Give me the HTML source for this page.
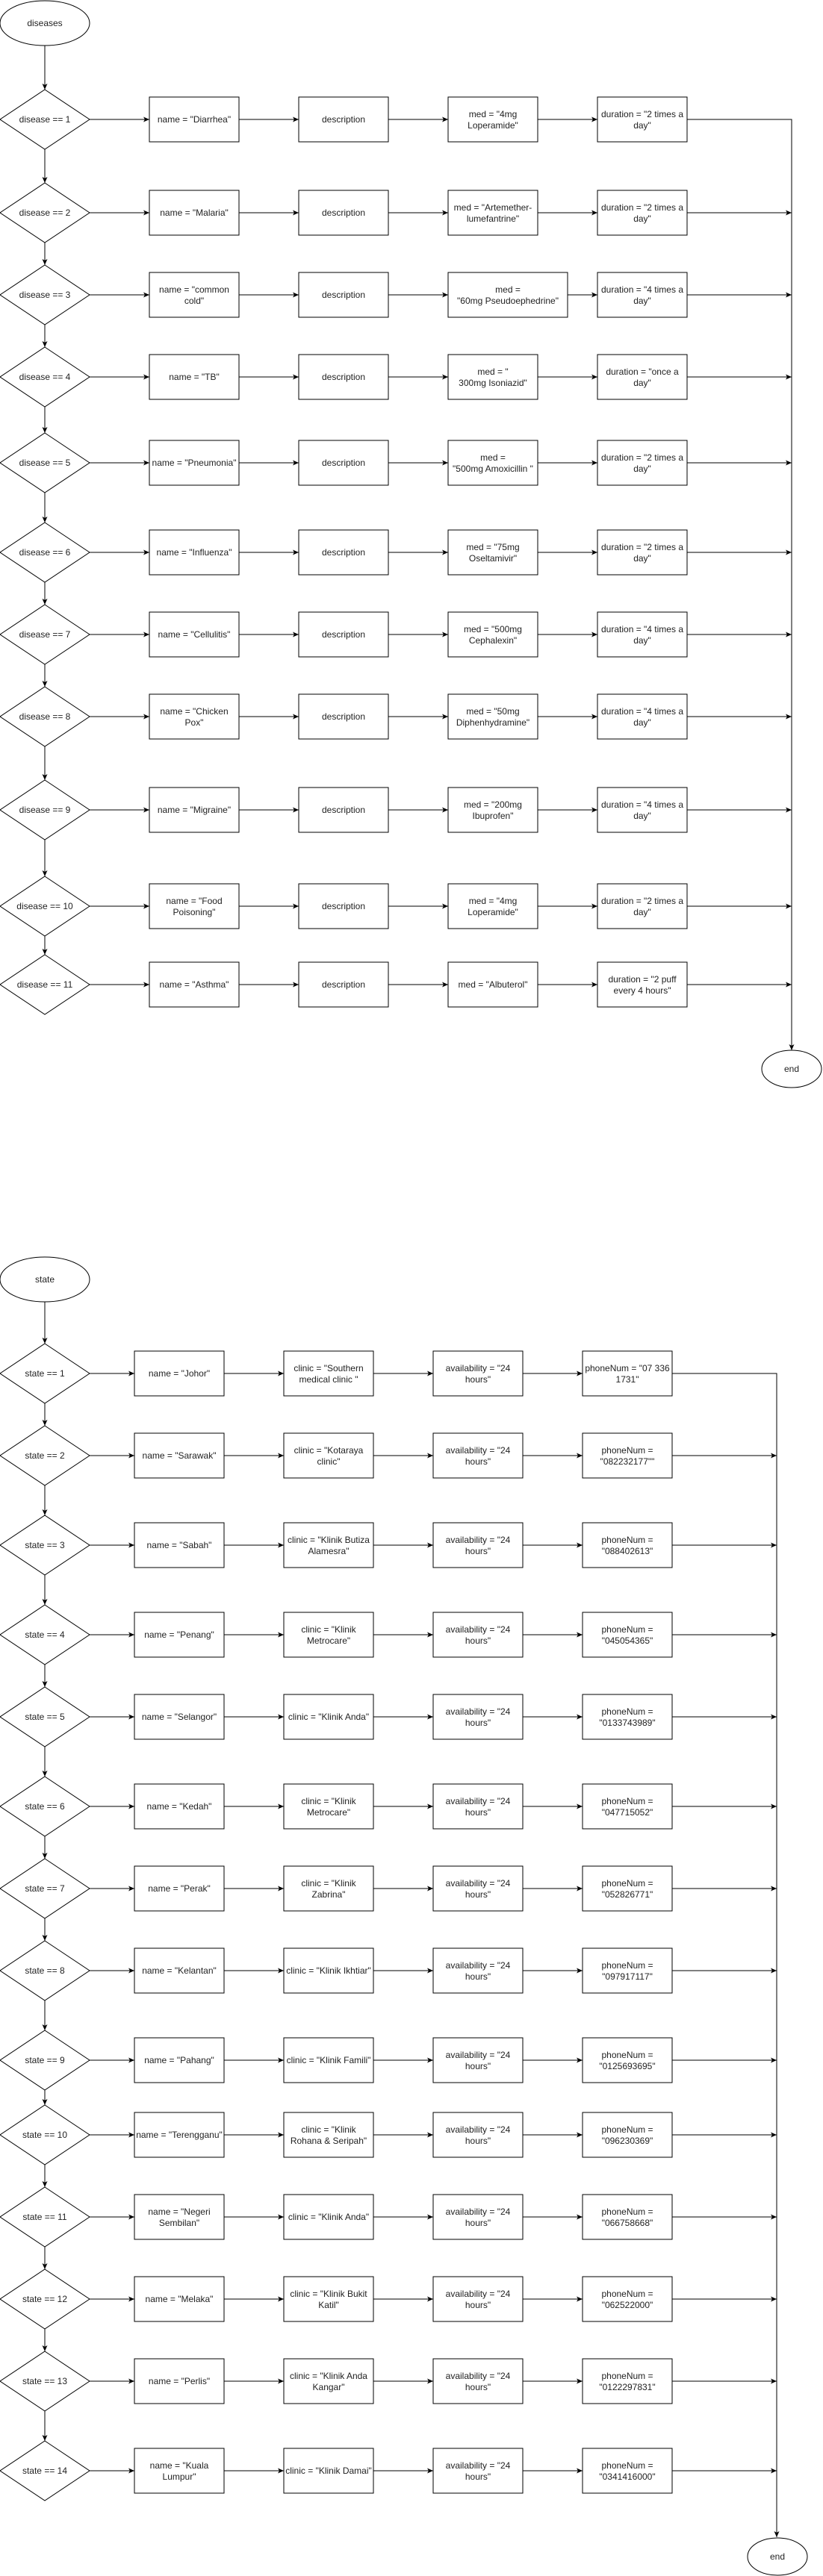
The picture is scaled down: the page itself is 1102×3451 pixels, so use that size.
<!DOCTYPE html>
<html><head><meta charset="utf-8"><style>
html,body{margin:0;padding:0;background:#fff;}
svg{display:block;}
text{font-family:"Liberation Sans",Arial,sans-serif;font-size:12px;fill:#222;text-anchor:middle;}
.s{fill:#fff;stroke:#000;stroke-width:1;}
.l{fill:none;stroke:#000;stroke-width:1;}
.a{fill:none;stroke:#000;stroke-width:1;marker-end:url(#m);}
</style></head><body>
<svg width="1102" height="3451" viewBox="0 0 1102 3451" xmlns="http://www.w3.org/2000/svg">
<defs><marker id="m" markerWidth="9" markerHeight="8" refX="8" refY="3.5" orient="auto" markerUnits="userSpaceOnUse"><path d="M0,0 L8,3.5 L0,7 L2,3.5 z" fill="#000"/></marker></defs>

<!-- ===== DISEASES ===== -->
<ellipse class="s" cx="60" cy="31" rx="60" ry="30"/><text x="60" y="35">diseases</text>
<path class="a" d="M60 61 V120"/>
<path class="a" d="M60 200 V245"/>
<path class="a" d="M60 325 V355"/>
<path class="a" d="M60 435 V465"/>
<path class="a" d="M60 545 V580"/>
<path class="a" d="M60 660 V700"/>
<path class="a" d="M60 780 V810"/>
<path class="a" d="M60 890 V920"/>
<path class="a" d="M60 1000 V1045"/>
<path class="a" d="M60 1125 V1174"/>
<path class="a" d="M60 1254 V1279"/>
<path class="l" d="M920 160 H1060 V1407"/>
<path class="a" d="M1060 1300 V1407"/>
<ellipse class="s" cx="1060" cy="1432" rx="40" ry="25"/><text x="1060" y="1436">end</text>

<g transform="translate(0,160)">
<polygon class="s" points="60,-40 120,0 60,40 0,0"/><text x="60" y="4">disease == 1</text>
<path class="a" d="M120 0 H200"/><path class="a" d="M320 0 H400"/><path class="a" d="M520 0 H600"/><path class="a" d="M720 0 H800"/>
<rect class="s" x="200" y="-30" width="120" height="60"/><text x="260" y="4">name = "Diarrhea"</text>
<rect class="s" x="400" y="-30" width="120" height="60"/><text x="460" y="4">description</text>
<rect class="s" x="600" y="-30" width="120" height="60"/><text x="660" y="-3">med = "4mg</text><text x="660" y="12">Loperamide"</text>
<rect class="s" x="800" y="-30" width="120" height="60"/><text x="860" y="-3">duration = "2 times a</text><text x="860" y="12">day"</text>
</g>
<g transform="translate(0,285)">
<polygon class="s" points="60,-40 120,0 60,40 0,0"/><text x="60" y="4">disease == 2</text>
<path class="a" d="M120 0 H200"/><path class="a" d="M320 0 H400"/><path class="a" d="M520 0 H600"/><path class="a" d="M720 0 H800"/><path class="a" d="M920 0 H1060"/>
<rect class="s" x="200" y="-30" width="120" height="60"/><text x="260" y="4">name = "Malaria"</text>
<rect class="s" x="400" y="-30" width="120" height="60"/><text x="460" y="4">description</text>
<rect class="s" x="600" y="-30" width="120" height="60"/><text x="660" y="-3">med = "Artemether-</text><text x="660" y="12">lumefantrine"</text>
<rect class="s" x="800" y="-30" width="120" height="60"/><text x="860" y="-3">duration = "2 times a</text><text x="860" y="12">day"</text>
</g>
<g transform="translate(0,395)">
<polygon class="s" points="60,-40 120,0 60,40 0,0"/><text x="60" y="4">disease == 3</text>
<path class="a" d="M120 0 H200"/><path class="a" d="M320 0 H400"/><path class="a" d="M520 0 H600"/><path class="a" d="M760 0 H800"/><path class="a" d="M920 0 H1060"/>
<rect class="s" x="200" y="-30" width="120" height="60"/><text x="260" y="-3">name = "common</text><text x="260" y="12">cold"</text>
<rect class="s" x="400" y="-30" width="120" height="60"/><text x="460" y="4">description</text>
<rect class="s" x="600" y="-30" width="160" height="60"/><text x="680" y="-3">med =</text><text x="680" y="12">"60mg Pseudoephedrine"</text>
<rect class="s" x="800" y="-30" width="120" height="60"/><text x="860" y="-3">duration = "4 times a</text><text x="860" y="12">day"</text>
</g>
<g transform="translate(0,505)">
<polygon class="s" points="60,-40 120,0 60,40 0,0"/><text x="60" y="4">disease == 4</text>
<path class="a" d="M120 0 H200"/><path class="a" d="M320 0 H400"/><path class="a" d="M520 0 H600"/><path class="a" d="M720 0 H800"/><path class="a" d="M920 0 H1060"/>
<rect class="s" x="200" y="-30" width="120" height="60"/><text x="260" y="4">name = "TB"</text>
<rect class="s" x="400" y="-30" width="120" height="60"/><text x="460" y="4">description</text>
<rect class="s" x="600" y="-30" width="120" height="60"/><text x="660" y="-3">med = "</text><text x="660" y="12">300mg Isoniazid"</text>
<rect class="s" x="800" y="-30" width="120" height="60"/><text x="860" y="-3">duration = "once a</text><text x="860" y="12">day"</text>
</g>
<g transform="translate(0,620)">
<polygon class="s" points="60,-40 120,0 60,40 0,0"/><text x="60" y="4">disease == 5</text>
<path class="a" d="M120 0 H200"/><path class="a" d="M320 0 H400"/><path class="a" d="M520 0 H600"/><path class="a" d="M720 0 H800"/><path class="a" d="M920 0 H1060"/>
<rect class="s" x="200" y="-30" width="120" height="60"/><text x="260" y="4">name = "Pneumonia"</text>
<rect class="s" x="400" y="-30" width="120" height="60"/><text x="460" y="4">description</text>
<rect class="s" x="600" y="-30" width="120" height="60"/><text x="660" y="-3">med =</text><text x="660" y="12">"500mg Amoxicillin "</text>
<rect class="s" x="800" y="-30" width="120" height="60"/><text x="860" y="-3">duration = "2 times a</text><text x="860" y="12">day"</text>
</g>
<g transform="translate(0,740)">
<polygon class="s" points="60,-40 120,0 60,40 0,0"/><text x="60" y="4">disease == 6</text>
<path class="a" d="M120 0 H200"/><path class="a" d="M320 0 H400"/><path class="a" d="M520 0 H600"/><path class="a" d="M720 0 H800"/><path class="a" d="M920 0 H1060"/>
<rect class="s" x="200" y="-30" width="120" height="60"/><text x="260" y="4">name = "Influenza"</text>
<rect class="s" x="400" y="-30" width="120" height="60"/><text x="460" y="4">description</text>
<rect class="s" x="600" y="-30" width="120" height="60"/><text x="660" y="-3">med = "75mg</text><text x="660" y="12">Oseltamivir"</text>
<rect class="s" x="800" y="-30" width="120" height="60"/><text x="860" y="-3">duration = "2 times a</text><text x="860" y="12">day"</text>
</g>
<g transform="translate(0,850)">
<polygon class="s" points="60,-40 120,0 60,40 0,0"/><text x="60" y="4">disease == 7</text>
<path class="a" d="M120 0 H200"/><path class="a" d="M320 0 H400"/><path class="a" d="M520 0 H600"/><path class="a" d="M720 0 H800"/><path class="a" d="M920 0 H1060"/>
<rect class="s" x="200" y="-30" width="120" height="60"/><text x="260" y="4">name = "Cellulitis"</text>
<rect class="s" x="400" y="-30" width="120" height="60"/><text x="460" y="4">description</text>
<rect class="s" x="600" y="-30" width="120" height="60"/><text x="660" y="-3">med = "500mg</text><text x="660" y="12">Cephalexin"</text>
<rect class="s" x="800" y="-30" width="120" height="60"/><text x="860" y="-3">duration = "4 times a</text><text x="860" y="12">day"</text>
</g>
<g transform="translate(0,960)">
<polygon class="s" points="60,-40 120,0 60,40 0,0"/><text x="60" y="4">disease == 8</text>
<path class="a" d="M120 0 H200"/><path class="a" d="M320 0 H400"/><path class="a" d="M520 0 H600"/><path class="a" d="M720 0 H800"/><path class="a" d="M920 0 H1060"/>
<rect class="s" x="200" y="-30" width="120" height="60"/><text x="260" y="-3">name = "Chicken</text><text x="260" y="12">Pox"</text>
<rect class="s" x="400" y="-30" width="120" height="60"/><text x="460" y="4">description</text>
<rect class="s" x="600" y="-30" width="120" height="60"/><text x="660" y="-3">med = "50mg</text><text x="660" y="12">Diphenhydramine"</text>
<rect class="s" x="800" y="-30" width="120" height="60"/><text x="860" y="-3">duration = "4 times a</text><text x="860" y="12">day"</text>
</g>
<g transform="translate(0,1085)">
<polygon class="s" points="60,-40 120,0 60,40 0,0"/><text x="60" y="4">disease == 9</text>
<path class="a" d="M120 0 H200"/><path class="a" d="M320 0 H400"/><path class="a" d="M520 0 H600"/><path class="a" d="M720 0 H800"/><path class="a" d="M920 0 H1060"/>
<rect class="s" x="200" y="-30" width="120" height="60"/><text x="260" y="4">name = "Migraine"</text>
<rect class="s" x="400" y="-30" width="120" height="60"/><text x="460" y="4">description</text>
<rect class="s" x="600" y="-30" width="120" height="60"/><text x="660" y="-3">med = "200mg</text><text x="660" y="12">Ibuprofen"</text>
<rect class="s" x="800" y="-30" width="120" height="60"/><text x="860" y="-3">duration = "4 times a</text><text x="860" y="12">day"</text>
</g>
<g transform="translate(0,1214)">
<polygon class="s" points="60,-40 120,0 60,40 0,0"/><text x="60" y="4">disease == 10</text>
<path class="a" d="M120 0 H200"/><path class="a" d="M320 0 H400"/><path class="a" d="M520 0 H600"/><path class="a" d="M720 0 H800"/><path class="a" d="M920 0 H1060"/>
<rect class="s" x="200" y="-30" width="120" height="60"/><text x="260" y="-3">name = "Food</text><text x="260" y="12">Poisoning"</text>
<rect class="s" x="400" y="-30" width="120" height="60"/><text x="460" y="4">description</text>
<rect class="s" x="600" y="-30" width="120" height="60"/><text x="660" y="-3">med = "4mg</text><text x="660" y="12">Loperamide"</text>
<rect class="s" x="800" y="-30" width="120" height="60"/><text x="860" y="-3">duration = "2 times a</text><text x="860" y="12">day"</text>
</g>
<g transform="translate(0,1319)">
<polygon class="s" points="60,-40 120,0 60,40 0,0"/><text x="60" y="4">disease == 11</text>
<path class="a" d="M120 0 H200"/><path class="a" d="M320 0 H400"/><path class="a" d="M520 0 H600"/><path class="a" d="M720 0 H800"/><path class="a" d="M920 0 H1060"/>
<rect class="s" x="200" y="-30" width="120" height="60"/><text x="260" y="4">name = "Asthma"</text>
<rect class="s" x="400" y="-30" width="120" height="60"/><text x="460" y="4">description</text>
<rect class="s" x="600" y="-30" width="120" height="60"/><text x="660" y="4">med = "Albuterol"</text>
<rect class="s" x="800" y="-30" width="120" height="60"/><text x="860" y="-3">duration = "2 puff</text><text x="860" y="12">every 4 hours"</text>
</g>

<!-- ===== STATES ===== -->
<ellipse class="s" cx="60" cy="1714" rx="60" ry="30"/><text x="60" y="1718">state</text>
<path class="a" d="M60 1744 V1800"/>
<path class="a" d="M60 1880 V1910"/>
<path class="a" d="M60 1990 V2030"/>
<path class="a" d="M60 2110 V2150"/>
<path class="a" d="M60 2230 V2260"/>
<path class="a" d="M60 2340 V2380"/>
<path class="a" d="M60 2460 V2490"/>
<path class="a" d="M60 2570 V2600"/>
<path class="a" d="M60 2680 V2720"/>
<path class="a" d="M60 2800 V2820"/>
<path class="a" d="M60 2900 V2930"/>
<path class="a" d="M60 3010 V3040"/>
<path class="a" d="M60 3120 V3150"/>
<path class="a" d="M60 3230 V3270"/>
<path class="l" d="M900 1840 H1040 V3399"/>
<path class="a" d="M1040 3340 V3399"/>
<ellipse class="s" cx="1041" cy="3425" rx="40" ry="25"/><text x="1041" y="3429">end</text>

<g transform="translate(0,1840)">
<polygon class="s" points="60,-40 120,0 60,40 0,0"/><text x="60" y="4">state == 1</text>
<path class="a" d="M120 0 H180"/><path class="a" d="M300 0 H380"/><path class="a" d="M500 0 H580"/><path class="a" d="M700 0 H780"/>
<rect class="s" x="180" y="-30" width="120" height="60"/><text x="240" y="4">name = "Johor"</text>
<rect class="s" x="380" y="-30" width="120" height="60"/><text x="440" y="-3">clinic = "Southern</text><text x="440" y="12">medical clinic "</text>
<rect class="s" x="580" y="-30" width="120" height="60"/><text x="640" y="-3">availability = "24</text><text x="640" y="12">hours"</text>
<rect class="s" x="780" y="-30" width="120" height="60"/><text x="840" y="-3">phoneNum = "07 336</text><text x="840" y="12">1731"</text>
</g>
<g transform="translate(0,1950)">
<polygon class="s" points="60,-40 120,0 60,40 0,0"/><text x="60" y="4">state == 2</text>
<path class="a" d="M120 0 H180"/><path class="a" d="M300 0 H380"/><path class="a" d="M500 0 H580"/><path class="a" d="M700 0 H780"/><path class="a" d="M900 0 H1040"/>
<rect class="s" x="180" y="-30" width="120" height="60"/><text x="240" y="4">name = "Sarawak"</text>
<rect class="s" x="380" y="-30" width="120" height="60"/><text x="440" y="-3">clinic = "Kotaraya</text><text x="440" y="12">clinic"</text>
<rect class="s" x="580" y="-30" width="120" height="60"/><text x="640" y="-3">availability = "24</text><text x="640" y="12">hours"</text>
<rect class="s" x="780" y="-30" width="120" height="60"/><text x="840" y="-3">phoneNum =</text><text x="840" y="12">"082232177""</text>
</g>
<g transform="translate(0,2070)">
<polygon class="s" points="60,-40 120,0 60,40 0,0"/><text x="60" y="4">state == 3</text>
<path class="a" d="M120 0 H180"/><path class="a" d="M300 0 H380"/><path class="a" d="M500 0 H580"/><path class="a" d="M700 0 H780"/><path class="a" d="M900 0 H1040"/>
<rect class="s" x="180" y="-30" width="120" height="60"/><text x="240" y="4">name = "Sabah"</text>
<rect class="s" x="380" y="-30" width="120" height="60"/><text x="440" y="-3">clinic = "Klinik Butiza</text><text x="440" y="12">Alamesra"</text>
<rect class="s" x="580" y="-30" width="120" height="60"/><text x="640" y="-3">availability = "24</text><text x="640" y="12">hours"</text>
<rect class="s" x="780" y="-30" width="120" height="60"/><text x="840" y="-3">phoneNum =</text><text x="840" y="12">"088402613"</text>
</g>
<g transform="translate(0,2190)">
<polygon class="s" points="60,-40 120,0 60,40 0,0"/><text x="60" y="4">state == 4</text>
<path class="a" d="M120 0 H180"/><path class="a" d="M300 0 H380"/><path class="a" d="M500 0 H580"/><path class="a" d="M700 0 H780"/><path class="a" d="M900 0 H1040"/>
<rect class="s" x="180" y="-30" width="120" height="60"/><text x="240" y="4">name = "Penang"</text>
<rect class="s" x="380" y="-30" width="120" height="60"/><text x="440" y="-3">clinic = "Klinik</text><text x="440" y="12">Metrocare"</text>
<rect class="s" x="580" y="-30" width="120" height="60"/><text x="640" y="-3">availability = "24</text><text x="640" y="12">hours"</text>
<rect class="s" x="780" y="-30" width="120" height="60"/><text x="840" y="-3">phoneNum =</text><text x="840" y="12">"045054365"</text>
</g>
<g transform="translate(0,2300)">
<polygon class="s" points="60,-40 120,0 60,40 0,0"/><text x="60" y="4">state == 5</text>
<path class="a" d="M120 0 H180"/><path class="a" d="M300 0 H380"/><path class="a" d="M500 0 H580"/><path class="a" d="M700 0 H780"/><path class="a" d="M900 0 H1040"/>
<rect class="s" x="180" y="-30" width="120" height="60"/><text x="240" y="4">name = "Selangor"</text>
<rect class="s" x="380" y="-30" width="120" height="60"/><text x="440" y="4">clinic = "Klinik Anda"</text>
<rect class="s" x="580" y="-30" width="120" height="60"/><text x="640" y="-3">availability = "24</text><text x="640" y="12">hours"</text>
<rect class="s" x="780" y="-30" width="120" height="60"/><text x="840" y="-3">phoneNum =</text><text x="840" y="12">"0133743989"</text>
</g>
<g transform="translate(0,2420)">
<polygon class="s" points="60,-40 120,0 60,40 0,0"/><text x="60" y="4">state == 6</text>
<path class="a" d="M120 0 H180"/><path class="a" d="M300 0 H380"/><path class="a" d="M500 0 H580"/><path class="a" d="M700 0 H780"/><path class="a" d="M900 0 H1040"/>
<rect class="s" x="180" y="-30" width="120" height="60"/><text x="240" y="4">name = "Kedah"</text>
<rect class="s" x="380" y="-30" width="120" height="60"/><text x="440" y="-3">clinic = "Klinik</text><text x="440" y="12">Metrocare"</text>
<rect class="s" x="580" y="-30" width="120" height="60"/><text x="640" y="-3">availability = "24</text><text x="640" y="12">hours"</text>
<rect class="s" x="780" y="-30" width="120" height="60"/><text x="840" y="-3">phoneNum =</text><text x="840" y="12">"047715052"</text>
</g>
<g transform="translate(0,2530)">
<polygon class="s" points="60,-40 120,0 60,40 0,0"/><text x="60" y="4">state == 7</text>
<path class="a" d="M120 0 H180"/><path class="a" d="M300 0 H380"/><path class="a" d="M500 0 H580"/><path class="a" d="M700 0 H780"/><path class="a" d="M900 0 H1040"/>
<rect class="s" x="180" y="-30" width="120" height="60"/><text x="240" y="4">name = "Perak"</text>
<rect class="s" x="380" y="-30" width="120" height="60"/><text x="440" y="-3">clinic = "Klinik</text><text x="440" y="12">Zabrina"</text>
<rect class="s" x="580" y="-30" width="120" height="60"/><text x="640" y="-3">availability = "24</text><text x="640" y="12">hours"</text>
<rect class="s" x="780" y="-30" width="120" height="60"/><text x="840" y="-3">phoneNum =</text><text x="840" y="12">"052826771"</text>
</g>
<g transform="translate(0,2640)">
<polygon class="s" points="60,-40 120,0 60,40 0,0"/><text x="60" y="4">state == 8</text>
<path class="a" d="M120 0 H180"/><path class="a" d="M300 0 H380"/><path class="a" d="M500 0 H580"/><path class="a" d="M700 0 H780"/><path class="a" d="M900 0 H1040"/>
<rect class="s" x="180" y="-30" width="120" height="60"/><text x="240" y="4">name = "Kelantan"</text>
<rect class="s" x="380" y="-30" width="120" height="60"/><text x="440" y="4">clinic = "Klinik Ikhtiar"</text>
<rect class="s" x="580" y="-30" width="120" height="60"/><text x="640" y="-3">availability = "24</text><text x="640" y="12">hours"</text>
<rect class="s" x="780" y="-30" width="120" height="60"/><text x="840" y="-3">phoneNum =</text><text x="840" y="12">"097917117"</text>
</g>
<g transform="translate(0,2760)">
<polygon class="s" points="60,-40 120,0 60,40 0,0"/><text x="60" y="4">state == 9</text>
<path class="a" d="M120 0 H180"/><path class="a" d="M300 0 H380"/><path class="a" d="M500 0 H580"/><path class="a" d="M700 0 H780"/><path class="a" d="M900 0 H1040"/>
<rect class="s" x="180" y="-30" width="120" height="60"/><text x="240" y="4">name = "Pahang"</text>
<rect class="s" x="380" y="-30" width="120" height="60"/><text x="440" y="4">clinic = "Klinik Famili"</text>
<rect class="s" x="580" y="-30" width="120" height="60"/><text x="640" y="-3">availability = "24</text><text x="640" y="12">hours"</text>
<rect class="s" x="780" y="-30" width="120" height="60"/><text x="840" y="-3">phoneNum =</text><text x="840" y="12">"0125693695"</text>
</g>
<g transform="translate(0,2860)">
<polygon class="s" points="60,-40 120,0 60,40 0,0"/><text x="60" y="4">state == 10</text>
<path class="a" d="M120 0 H180"/><path class="a" d="M300 0 H380"/><path class="a" d="M500 0 H580"/><path class="a" d="M700 0 H780"/><path class="a" d="M900 0 H1040"/>
<rect class="s" x="180" y="-30" width="120" height="60"/><text x="240" y="4">name = "Terengganu"</text>
<rect class="s" x="380" y="-30" width="120" height="60"/><text x="440" y="-3">clinic = "Klinik</text><text x="440" y="12">Rohana &amp; Seripah"</text>
<rect class="s" x="580" y="-30" width="120" height="60"/><text x="640" y="-3">availability = "24</text><text x="640" y="12">hours"</text>
<rect class="s" x="780" y="-30" width="120" height="60"/><text x="840" y="-3">phoneNum =</text><text x="840" y="12">"096230369"</text>
</g>
<g transform="translate(0,2970)">
<polygon class="s" points="60,-40 120,0 60,40 0,0"/><text x="60" y="4">state == 11</text>
<path class="a" d="M120 0 H180"/><path class="a" d="M300 0 H380"/><path class="a" d="M500 0 H580"/><path class="a" d="M700 0 H780"/><path class="a" d="M900 0 H1040"/>
<rect class="s" x="180" y="-30" width="120" height="60"/><text x="240" y="-3">name = "Negeri</text><text x="240" y="12">Sembilan"</text>
<rect class="s" x="380" y="-30" width="120" height="60"/><text x="440" y="4">clinic = "Klinik Anda"</text>
<rect class="s" x="580" y="-30" width="120" height="60"/><text x="640" y="-3">availability = "24</text><text x="640" y="12">hours"</text>
<rect class="s" x="780" y="-30" width="120" height="60"/><text x="840" y="-3">phoneNum =</text><text x="840" y="12">"066758668"</text>
</g>
<g transform="translate(0,3080)">
<polygon class="s" points="60,-40 120,0 60,40 0,0"/><text x="60" y="4">state == 12</text>
<path class="a" d="M120 0 H180"/><path class="a" d="M300 0 H380"/><path class="a" d="M500 0 H580"/><path class="a" d="M700 0 H780"/><path class="a" d="M900 0 H1040"/>
<rect class="s" x="180" y="-30" width="120" height="60"/><text x="240" y="4">name = "Melaka"</text>
<rect class="s" x="380" y="-30" width="120" height="60"/><text x="440" y="-3">clinic = "Klinik Bukit</text><text x="440" y="12">Katil"</text>
<rect class="s" x="580" y="-30" width="120" height="60"/><text x="640" y="-3">availability = "24</text><text x="640" y="12">hours"</text>
<rect class="s" x="780" y="-30" width="120" height="60"/><text x="840" y="-3">phoneNum =</text><text x="840" y="12">"062522000"</text>
</g>
<g transform="translate(0,3190)">
<polygon class="s" points="60,-40 120,0 60,40 0,0"/><text x="60" y="4">state == 13</text>
<path class="a" d="M120 0 H180"/><path class="a" d="M300 0 H380"/><path class="a" d="M500 0 H580"/><path class="a" d="M700 0 H780"/><path class="a" d="M900 0 H1040"/>
<rect class="s" x="180" y="-30" width="120" height="60"/><text x="240" y="4">name = "Perlis"</text>
<rect class="s" x="380" y="-30" width="120" height="60"/><text x="440" y="-3">clinic = "Klinik Anda</text><text x="440" y="12">Kangar"</text>
<rect class="s" x="580" y="-30" width="120" height="60"/><text x="640" y="-3">availability = "24</text><text x="640" y="12">hours"</text>
<rect class="s" x="780" y="-30" width="120" height="60"/><text x="840" y="-3">phoneNum =</text><text x="840" y="12">"0122297831"</text>
</g>
<g transform="translate(0,3310)">
<polygon class="s" points="60,-40 120,0 60,40 0,0"/><text x="60" y="4">state == 14</text>
<path class="a" d="M120 0 H180"/><path class="a" d="M300 0 H380"/><path class="a" d="M500 0 H580"/><path class="a" d="M700 0 H780"/><path class="a" d="M900 0 H1040"/>
<rect class="s" x="180" y="-30" width="120" height="60"/><text x="240" y="-3">name = "Kuala</text><text x="240" y="12">Lumpur"</text>
<rect class="s" x="380" y="-30" width="120" height="60"/><text x="440" y="4">clinic = "Klinik Damai"</text>
<rect class="s" x="580" y="-30" width="120" height="60"/><text x="640" y="-3">availability = "24</text><text x="640" y="12">hours"</text>
<rect class="s" x="780" y="-30" width="120" height="60"/><text x="840" y="-3">phoneNum =</text><text x="840" y="12">"0341416000"</text>
</g>
</svg>
</body></html>
